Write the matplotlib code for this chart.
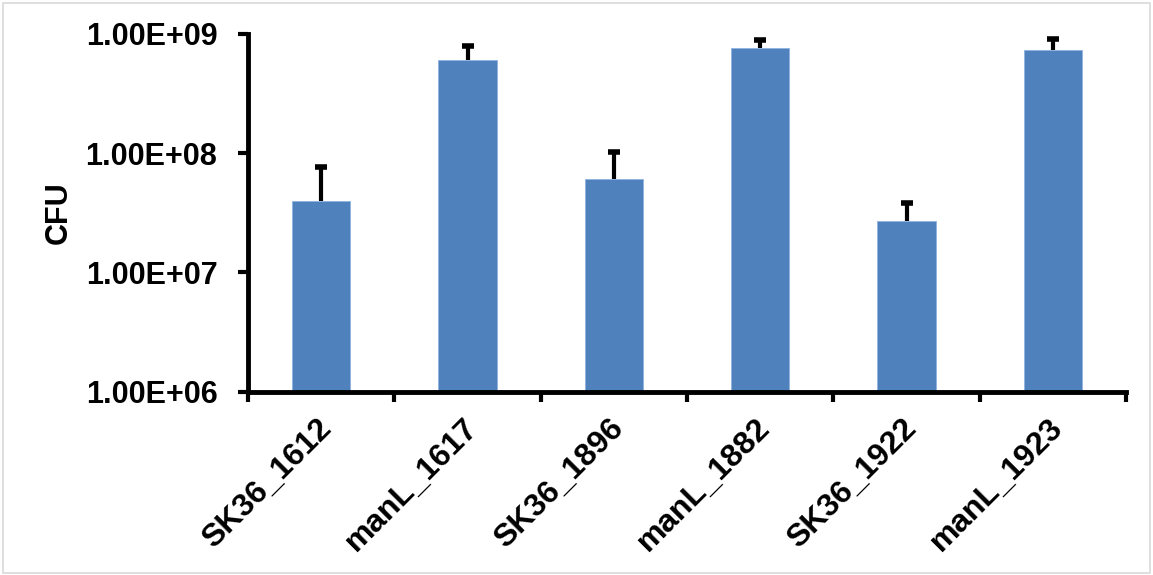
import matplotlib
matplotlib.use("Agg")
import matplotlib.pyplot as plt
from matplotlib.patches import Rectangle
from matplotlib.ticker import FixedLocator, FuncFormatter, NullLocator
import matplotlib.transforms as mtransforms
import numpy as np

categories = ["SK36_1612", "manL_1617", "SK36_1896", "manL_1882", "SK36_1922", "manL_1923"]
cfu = [3.93e7, 6.0e8, 6.08e7, 7.6e8, 2.7e7, 7.23e8]
err_upper = [3.7e7, 1.86e8, 4.1e7, 1.23e8, 1.14e7, 1.77e8]
ytick_values = [1e6, 1e7, 1e8, 1e9]

plt.rcParams['font.family'] = ['Liberation Sans', 'DejaVu Sans']
plt.rcParams['font.weight'] = 'bold'

fig = plt.figure(figsize=(11.53, 5.75), dpi=100)
ax = fig.add_axes([0.2151, 0.3183, 0.9766 - 0.2151, 0.9417 - 0.3183])

x = np.arange(len(categories))
base = 1e6
heights = [v - base for v in cfu]
ax.bar(x, heights, bottom=base, width=0.4, color='#4F81BD', edgecolor='#8DB3E2', linewidth=0.6, zorder=2)
tops = [v + e for v, e in zip(cfu, err_upper)]
ax.vlines(x, cfu, tops, colors='black', linewidth=3, zorder=3)
ax.plot(x, tops, linestyle='none', marker='_', markersize=9, markeredgewidth=4, color='black', zorder=3)

ax.set_yscale('log')
ax.set_ylim(1e6, 1e9)
ax.set_xlim(-0.5, len(categories) - 0.5)

ax.yaxis.set_major_locator(FixedLocator(ytick_values))
ax.yaxis.set_minor_locator(NullLocator())
ax.yaxis.set_major_formatter(FuncFormatter(lambda v, p: "%.2fE+%02d" % (v / 10 ** int(round(np.log10(v))), int(round(np.log10(v))))))

ax.set_xticks(np.arange(-0.5, len(categories), 1.0))
ax.set_xticklabels([])
ax.xaxis.set_minor_locator(NullLocator())

blend = mtransforms.blended_transform_factory(ax.transData, ax.transAxes)
offset = mtransforms.ScaledTranslation(16 / 100, -21 / 100, fig.dpi_scale_trans)
for xi, name in zip(x, categories):
    ax.text(xi, 0, name, transform=blend + offset, rotation=45, ha='right', va='top',
            fontsize=23, fontweight='bold', clip_on=False)

ax.tick_params(axis='x', which='major', length=7, width=3, direction='out')
ax.tick_params(axis='y', which='major', length=7, width=3, direction='out', pad=15, labelsize=22)
for lab in ax.get_yticklabels():
    lab.set_fontweight('bold')

for s in ['top', 'right']:
    ax.spines[s].set_visible(False)
for s in ['left', 'bottom']:
    ax.spines[s].set_linewidth(3.5)

ax.set_ylabel("CFU", fontsize=22, fontweight='bold')
ax.yaxis.set_label_coords(-0.199, 0.5)

fig.patches.append(Rectangle((0.003, 0.004), 0.994, 0.991, transform=fig.transFigure,
                             fill=False, edgecolor='#d9d9d9', linewidth=1.2))

fig.savefig("out.png", dpi=100)
